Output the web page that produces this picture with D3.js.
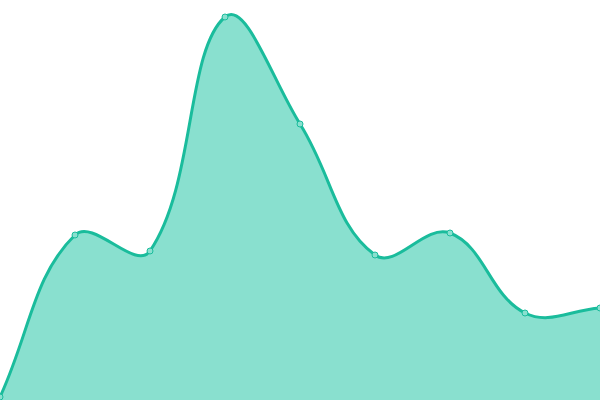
<!DOCTYPE html>
<html>
<head>
<meta charset="utf-8">
<script src="https://cdn.jsdelivr.net/npm/d3@7"></script>
<style>
  body { margin: 0; background: #fff; }
  svg { display: block; }
</style>
</head>
<body>
<script>
let labels = ["0", "1", "2", "3", "4", "5", "6", "7", "8"];
let values = [3, 165, 149, 383, 276, 145, 167, 87, 92];

let width = 600,
  height = 400,
  tension = 0.4;

let x = d3.scalePoint()
  .domain(labels)
  .range([0, width]);

let y = d3.scaleLinear()
  .domain([0, 400])
  .range([height, 0]);

let data = labels.map((l, i) => ({ label: l, value: values[i] }));

// spline weighted by distance to neighbours, tension 0.4
function SplineCurve(context) { this._context = context; }
SplineCurve.prototype = {
  areaStart() { this._line = 0; },
  areaEnd() { this._line = NaN; },
  lineStart() { this._pts = []; },
  point(px, py) { this._pts.push([+px, +py]); },
  lineEnd() {
    let pts = this._pts, n = pts.length, c = this._context;
    if (n) {
      let cps = pts.map((p, i) => {
        let prev = pts[Math.max(0, i - 1)], next = pts[Math.min(n - 1, i + 1)];
        let d01 = Math.hypot(p[0] - prev[0], p[1] - prev[1]);
        let d12 = Math.hypot(next[0] - p[0], next[1] - p[1]);
        let s01 = d01 / (d01 + d12), s12 = d12 / (d01 + d12);
        if (isNaN(s01)) s01 = 0;
        if (isNaN(s12)) s12 = 0;
        let fa = tension * s01, fb = tension * s12;
        return {
          prev: [p[0] - fa * (next[0] - prev[0]), p[1] - fa * (next[1] - prev[1])],
          next: [p[0] + fb * (next[0] - prev[0]), p[1] + fb * (next[1] - prev[1])]
        };
      });
      if (this._line) c.lineTo(pts[0][0], pts[0][1]);
      else c.moveTo(pts[0][0], pts[0][1]);
      for (let i = 1; i < n; i++) {
        let a = cps[i - 1].next, b = cps[i].prev;
        c.bezierCurveTo(a[0], a[1], b[0], b[1], pts[i][0], pts[i][1]);
      }
    }
    if (this._line || (this._line !== 0 && n === 1)) c.closePath();
    this._line = 1 - this._line;
  }
};
let curveSpline = context => new SplineCurve(context);

let svg = d3.select("body").append("svg")
  .attr("width", width)
  .attr("height", height);

let area = d3.area()
  .x(d => x(d.label))
  .y0(height)
  .y1(d => y(d.value))
  .curve(curveSpline);

let line = d3.line()
  .x(d => x(d.label))
  .y(d => y(d.value))
  .curve(curveSpline);

svg.append("path")
  .datum(data)
  .attr("d", area)
  .attr("fill", "#89e0cf");

svg.append("path")
  .datum(data)
  .attr("d", line)
  .attr("fill", "none")
  .attr("stroke", "#1abc9c")
  .attr("stroke-width", 3);

svg.selectAll("circle.pt").data(data).enter().append("circle")
  .classed("pt", true)
  .attr("cx", d => x(d.label))
  .attr("cy", d => y(d.value))
  .attr("r", 3)
  .attr("fill", "#89e0cf")
  .attr("stroke", "#1abc9c")
  .attr("stroke-width", 1);
</script>
</body>
</html>
